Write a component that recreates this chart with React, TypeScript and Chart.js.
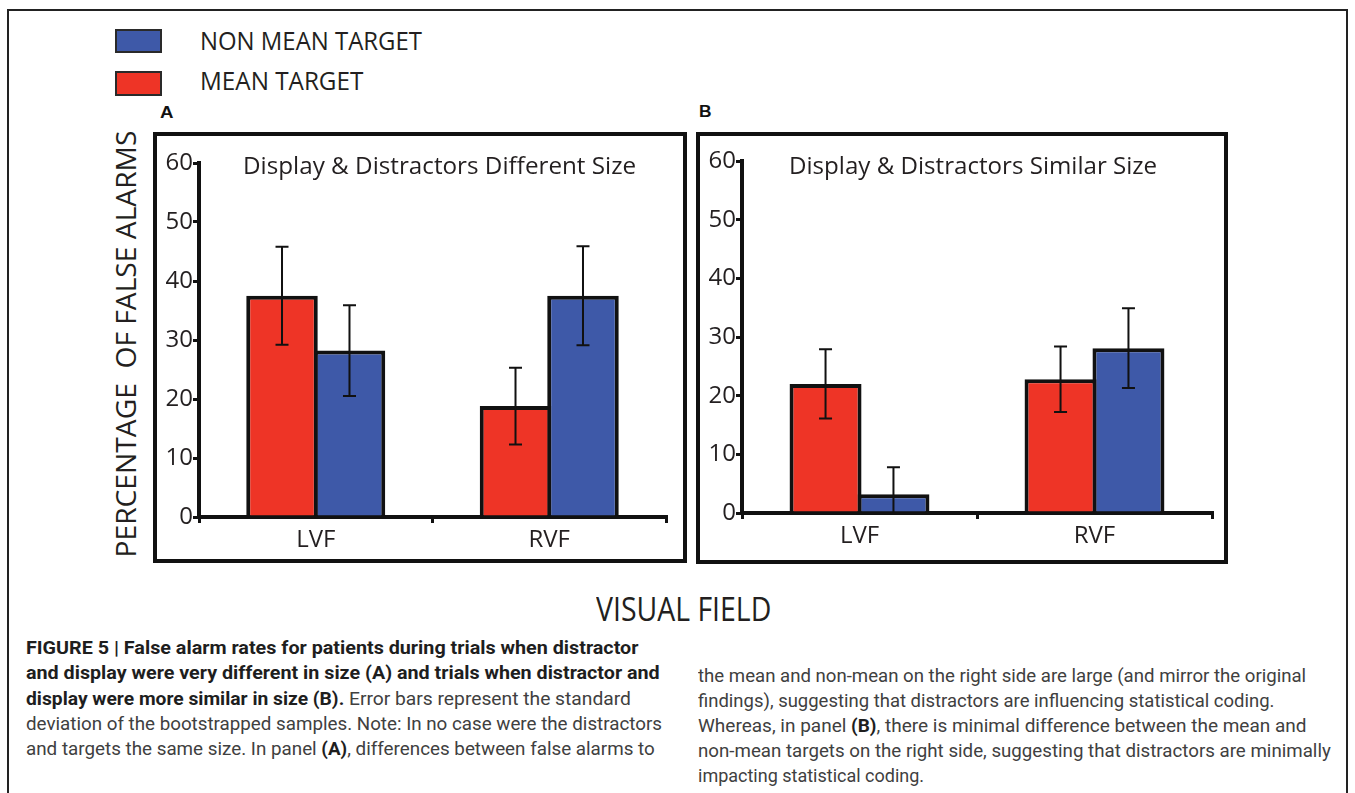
import React, { useEffect, useLayoutEffect, useRef } from 'react';
import { Chart, registerables } from 'chart.js';

Chart.register(...registerables);

// ---------- data ----------
const categories = ['LVF', 'RVF'];
const seriesNames = ['MEAN TARGET', 'NON MEAN TARGET'];
const panelTitles = ['Display & Distractors Different Size', 'Display & Distractors Similar Size'];
const panelLetters = ['A', 'B'];

const panelAMean = [37.5, 18.8];
const panelAMeanErr = [8.3, 6.5];
const panelANonMean = [28.2, 37.5];
const panelANonMeanErr = [7.7, 8.4];

const panelBMean = [22.0, 22.8];
const panelBMeanErr = [5.9, 5.6];
const panelBNonMean = [3.2, 28.1];
const panelBNonMeanErr = [4.6, 6.8];

const yTickValues = [0, 10, 20, 30, 40, 50, 60];

const yAxisTitle = 'PERCENTAGE  OF FALSE ALARMS';
const xAxisTitle = 'VISUAL FIELD';

const captionLeft: Array<Array<[string, boolean]>> = [
  [['FIGURE 5 | False alarm rates for patients during trials when distractor', true]],
  [['and display were very different in size (A) and trials when distractor and', true]],
  [['display were more similar in size (B).', true], [' Error bars represent the standard', false]],
  [['deviation of the bootstrapped samples. Note: In no case were the distractors', false]],
  [['and targets the same size. In panel ', false], ['(A)', true], [', differences between false alarms to', false]],
];
const captionRight: Array<Array<[string, boolean]>> = [
  [['the mean and non-mean on the right side are large (and mirror the original', false]],
  [['findings), suggesting that distractors are influencing statistical coding.', false]],
  [['Whereas, in panel ', false], ['(B)', true], [', there is minimal difference between the mean and', false]],
  [['non-mean targets on the right side, suggesting that distractors are minimally', false]],
  [['impacting statistical coding.', false]],
];

// ---------- styles ----------
const RED = '#EE3426';
const BLUE = '#3E59A8';
const EDGE = '#111111';
const TEXT = '#231f20';
const MYRIAD = "'Open Sans', 'Noto Sans', sans-serif";
const HELV = "Roboto, 'Liberation Sans', sans-serif";

// ---------- text helper ----------
type FitProps = {
  left: number;
  top: number;
  width: number;
  font: string;
  color?: string;
  rotate?: boolean;
  children: React.ReactNode;
};

function FitText({ left, top, width, font, color = TEXT, rotate = false, children }: FitProps) {
  const ref = useRef<HTMLSpanElement>(null);
  useLayoutEffect(() => {
    const el = ref.current;
    if (!el) return;
    let alive = true;
    const fit = () => {
      if (!alive) return;
      const natural = el.offsetWidth;
      const k = natural > 0 ? width / natural : 1;
      el.style.transform = rotate
        ? `translate(-50%, -50%) rotate(-90deg) scaleX(${k})`
        : `scaleX(${k})`;
    };
    fit();
    const fonts = (document as any).fonts;
    if (fonts && fonts.ready) fonts.ready.then(fit);
    return () => {
      alive = false;
    };
  }, [width, rotate]);
  return (
    <span
      ref={ref}
      style={{
        position: 'absolute',
        left,
        top,
        font,
        color,
        whiteSpace: 'pre',
        lineHeight: 1,
        display: 'inline-block',
        transformOrigin: rotate ? '50% 50%' : '0 50%',
      }}
    >
      {children}
    </span>
  );
}

// ---------- error bars ----------
const errorBarPlugin = {
  id: 'errorBars',
  afterDatasetsDraw(chart: any) {
    const { ctx } = chart;
    const yScale = chart.scales.y;
    ctx.save();
    ctx.strokeStyle = EDGE;
    ctx.lineWidth = 2;
    chart.data.datasets.forEach((ds: any, i: number) => {
      const meta = chart.getDatasetMeta(i);
      meta.data.forEach((el: any, j: number) => {
        const v = ds.data[j];
        const e = ds.errors[j];
        const x = el.x;
        const hi = v + e;
        const lo = v - e;
        const clipped = lo < yScale.min;
        const yT = yScale.getPixelForValue(hi);
        const yB = yScale.getPixelForValue(Math.max(lo, yScale.min));
        const cap = 6.5;
        ctx.beginPath();
        ctx.moveTo(x, yT);
        ctx.lineTo(x, yB);
        ctx.moveTo(x - cap, yT);
        ctx.lineTo(x + cap, yT);
        if (!clipped) {
          ctx.moveTo(x - cap, yB);
          ctx.lineTo(x + cap, yB);
        }
        ctx.stroke();
      });
    });
    ctx.restore();
  },
};

type PanelLayout = { padTop: number; padRight: number; yWidth: number; xHeight: number };

function makeConfig(
  mean: number[],
  meanErr: number[],
  nonMean: number[],
  nonMeanErr: number[],
  lay: PanelLayout
): any {
  return {
    type: 'bar',
    data: {
      labels: categories,
      datasets: [
        {
          label: seriesNames[0],
          data: mean,
          errors: meanErr,
          backgroundColor: RED,
          borderColor: EDGE,
          borderWidth: 4,
          borderSkipped: 'start',
        },
        {
          label: seriesNames[1],
          data: nonMean,
          errors: nonMeanErr,
          backgroundColor: BLUE,
          borderColor: EDGE,
          borderWidth: 4,
          borderSkipped: 'start',
        },
      ],
    },
    options: {
      animation: false,
      responsive: true,
      maintainAspectRatio: false,
      layout: { padding: { top: lay.padTop, right: lay.padRight, left: 0, bottom: 0 } },
      datasets: { bar: { categoryPercentage: 0.578, barPercentage: 1.06 } },
      plugins: {
        legend: { display: false },
        tooltip: { enabled: false },
        title: { display: false },
      },
      scales: {
        x: {
          type: 'category',
          z: 1,
          offset: true,
          grid: {
            display: true,
            drawOnChartArea: false,
            drawTicks: true,
            offset: true,
            tickLength: 6,
            tickWidth: 3,
            tickColor: EDGE,
            color: EDGE,
            lineWidth: 3,
          },
          border: { display: true, color: EDGE, width: 4 },
          ticks: {
            color: TEXT,
            font: { family: MYRIAD, size: 24 },
            padding: 3,
            maxRotation: 0,
          },
          afterFit: (s: any) => {
            s.height = lay.xHeight;
          },
        },
        y: {
          min: yTickValues[0],
          max: yTickValues[yTickValues.length - 1],
          afterBuildTicks: (s: any) => {
            s.ticks = yTickValues.map((v) => ({ value: v }));
          },
          ticks: {
            color: TEXT,
            font: { family: MYRIAD, size: 24 },
            padding: 0,
          },
          grid: {
            display: true,
            drawOnChartArea: false,
            tickLength: 6,
            tickWidth: 3,
            tickColor: EDGE,
            color: EDGE,
            lineWidth: 3,
          },
          border: { display: true, color: EDGE, width: 4 },
          afterFit: (s: any) => {
            s.width = lay.yWidth;
          },
        },
      },
    },
    plugins: [errorBarPlugin],
  };
}

function BarPanel({
  left,
  top,
  width,
  height,
  config,
}: {
  left: number;
  top: number;
  width: number;
  height: number;
  config: any;
}) {
  const ref = useRef<HTMLCanvasElement>(null);
  useEffect(() => {
    if (!ref.current) return;
    const chart = new Chart(ref.current, config);
    const fonts = (document as any).fonts;
    if (fonts && fonts.ready) fonts.ready.then(() => chart.update());
    return () => chart.destroy();
  }, [config]);
  return (
    <div style={{ position: 'absolute', left, top, width, height }}>
      <canvas ref={ref} />
    </div>
  );
}

const configA = makeConfig(panelAMean, panelAMeanErr, panelANonMean, panelANonMeanErr, {
  padTop: 27,
  padRight: 17,
  yWidth: 42,
  xHeight: 42,
});
const configB = makeConfig(panelBMean, panelBMeanErr, panelBNonMean, panelBNonMeanErr, {
  padTop: 25,
  padRight: 12,
  yWidth: 42,
  xHeight: 47,
});

// top of a text box (line-height 1) whose cap centre sits at cy
const openTop = (cy: number, size: number) => cy - 0.531 * size;
const robotoTop = (cy: number, size: number) => cy - 0.486 * size;
const arialTop = (cy: number, size: number) => cy - 0.488 * size;

const leftWidths = [612, 634, 605, 636, 629];
const rightWidths = [608, 576, 608, 633, 226];

function CaptionLine({ parts, x, cy, width }: { parts: Array<[string, boolean]>; x: number; cy: number; width: number }) {
  return (
    <FitText left={x} top={robotoTop(cy, 18)} width={width} font={`18px ${HELV}`} color="#404040">
      {parts.map(([t, b], i) =>
        b ? (
          <b key={i} style={{ fontWeight: 700, color: '#1e1e1e' }}>
            {t}
          </b>
        ) : (
          <span key={i}>{t}</span>
        )
      )}
    </FitText>
  );
}

export default function App() {
  return (
    <div
      style={{
        position: 'fixed',
        left: 0,
        top: 0,
        width: 1355,
        height: 793,
        overflow: 'hidden',
        background: '#ffffff',
      }}
    >
      {/* outer frame */}
      <div
        style={{
          position: 'absolute',
          left: 7,
          top: 9,
          width: 1341,
          height: 900,
          border: '2px solid #222',
          boxSizing: 'border-box',
        }}
      />

      {/* legend */}
      <div
        style={{
          position: 'absolute',
          left: 115,
          top: 29,
          width: 47,
          height: 24,
          background: BLUE,
          border: '2px solid #2a2a2a',
          boxSizing: 'border-box',
        }}
      />
      <FitText left={200} top={openTop(41, 25)} width={222} font={`25px ${MYRIAD}`}>
        {seriesNames[1]}
      </FitText>
      <div
        style={{
          position: 'absolute',
          left: 115,
          top: 71,
          width: 47,
          height: 25,
          background: RED,
          border: '2px solid #2a2a2a',
          boxSizing: 'border-box',
        }}
      />
      <FitText left={200} top={openTop(81, 25)} width={163} font={`25px ${MYRIAD}`}>
        {seriesNames[0]}
      </FitText>

      {/* panel letters */}
      <FitText left={160} top={arialTop(112.5, 16)} width={14} font={`bold 16px 'Liberation Sans', Arial, sans-serif`} color="#111">
        {panelLetters[0]}
      </FitText>
      <FitText left={699} top={arialTop(111.5, 16)} width={13} font={`bold 16px 'Liberation Sans', Arial, sans-serif`} color="#111">
        {panelLetters[1]}
      </FitText>

      {/* panel boxes */}
      <div
        style={{
          position: 'absolute',
          left: 153,
          top: 132,
          width: 534,
          height: 431,
          border: '4px solid #111',
          boxSizing: 'border-box',
        }}
      />
      <div
        style={{
          position: 'absolute',
          left: 696,
          top: 132,
          width: 532,
          height: 432,
          border: '4px solid #111',
          boxSizing: 'border-box',
        }}
      />

      <BarPanel left={157} top={136} width={526} height={423} config={configA} />
      <BarPanel left={700} top={136} width={524} height={424} config={configB} />

      {/* panel titles */}
      <FitText left={243} top={openTop(166.5, 23)} width={393} font={`23px ${MYRIAD}`}>
        {panelTitles[0]}
      </FitText>
      <FitText left={789} top={openTop(166, 23)} width={368} font={`23px ${MYRIAD}`}>
        {panelTitles[1]}
      </FitText>

      {/* axis titles */}
      <FitText left={125} top={343.5} width={427} font={`28px ${MYRIAD}`} rotate>
        {yAxisTitle}
      </FitText>
      <FitText left={596} top={openTop(610, 32)} width={175} font={`32px ${MYRIAD}`}>
        {xAxisTitle}
      </FitText>

      {/* caption */}
      {captionLeft.map((parts, i) => (
        <CaptionLine key={'l' + i} parts={parts} x={26} cy={648 + i * 25.2} width={leftWidths[i]} />
      ))}
      {captionRight.map((parts, i) => (
        <CaptionLine key={'r' + i} parts={parts} x={698} cy={676 + i * 25} width={rightWidths[i]} />
      ))}
    </div>
  );
}
